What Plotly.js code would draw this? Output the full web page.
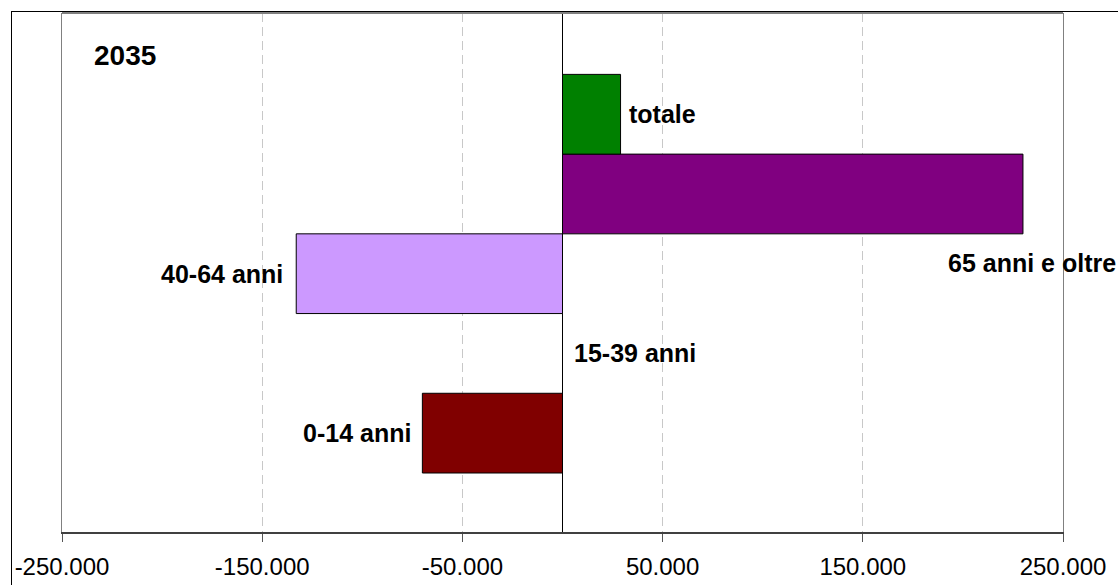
<!DOCTYPE html>
<html>
<head>
<meta charset="utf-8">
<script src="https://cdn.plot.ly/plotly-3.0.1.min.js"></script>
<style>
  html, body { margin: 0; padding: 0; background: #ffffff; overflow: hidden; }
  #frame { position: absolute; left: 11px; top: 11px; width: 1200px; height: 700px;
           border-left: 1px solid #000; border-top: 1px solid #000; }
  #chart { position: absolute; left: 0; top: 0; width: 1118px; height: 585px; }
</style>
</head>
<body>
<div id="frame"></div>
<div id="chart"></div>
<script>
// Data
const categories = ['0-14 anni', '15-39 anni', '40-64 anni', '65 anni e oltre', 'totale'];
const values = [-70000, 0, -133000, 230000, 29000];
const barColors = ['#800000', '#FF9999', '#CC99FF', '#800080', '#008000'];
const tickValues = [-250000, -150000, -50000, 50000, 150000, 250000];
const tickLabels = ['-250.000', '-150.000', '-50.000', '50.000', '150.000', '250.000'];
const chartTitle = '2035';

const labelFont = { family: 'Liberation Sans, Arial, sans-serif', size: 25, color: '#000000' };

const trace = {
  type: 'bar',
  orientation: 'h',
  y: categories,
  x: values,
  marker: { color: barColors, line: { color: '#000000', width: 1 } },
  hoverinfo: 'none'
};

// label placement offsets per category (style, not data)
const labelStyle = {
  '0-14 anni': { xanchor: 'right', xshift: -9, yshift: 0 },
  '15-39 anni': { xanchor: 'left', xshift: 9, yshift: 0 },
  '40-64 anni': { xanchor: 'right', xshift: -11, yshift: 0 },
  '65 anni e oltre': { xanchor: 'left', xshift: -77, yshift: -69 },
  'totale': { xanchor: 'left', xshift: 6, yshift: 0 }
};

const annotations = categories.map((c, i) => ({
  x: values[i], y: c, xref: 'x', yref: 'y',
  text: '<b>' + c + '</b>', showarrow: false,
  xanchor: labelStyle[c].xanchor, yanchor: 'middle',
  xshift: labelStyle[c].xshift, yshift: labelStyle[c].yshift,
  font: labelFont
}));
annotations.push({
  x: 0.063, y: 0.919, xref: 'paper', yref: 'paper',
  text: '<b>' + chartTitle + '</b>', showarrow: false,
  xanchor: 'center', yanchor: 'middle',
  font: { family: 'Liberation Sans, Arial, sans-serif', size: 28, color: '#000000' }
});

const layout = {
  width: 1118, height: 585,
  margin: { l: 62, r: 55, t: 13, b: 53, pad: 0 },
  paper_bgcolor: 'rgba(0,0,0,0)',
  plot_bgcolor: '#ffffff',
  showlegend: false,
  bargap: 0,
  xaxis: {
    range: [-250000, 250000],
    tickvals: tickValues, ticktext: tickLabels,
    tickfont: { family: 'Liberation Sans, Arial, sans-serif', size: 24, color: '#000000' },
    ticks: 'outside', ticklen: 8, tickcolor: '#555555', tickwidth: 1,
    ticklabelstandoff: 4,
    showgrid: true, gridcolor: '#c8c8c8', griddash: '9px,5px', gridwidth: 1,
    zeroline: true, zerolinecolor: '#000000', zerolinewidth: 1,
    showline: true, linecolor: '#404040', linewidth: 2,
    fixedrange: true
  },
  yaxis: {
    type: 'category',
    categoryorder: 'array', categoryarray: categories,
    range: [-1.24, 5.27],
    showticklabels: false, ticks: '',
    showgrid: false, zeroline: false,
    showline: true, mirror: true, linecolor: '#808080', linewidth: 1,
    fixedrange: true
  },
  shapes: [{
    type: 'line', xref: 'paper', yref: 'paper', x0: 0, x1: 1, y0: 1, y1: 1,
    line: { color: '#808080', width: 2 }
  }],
  annotations: annotations
};

Plotly.newPlot('chart', [trace], layout, { displayModeBar: false, staticPlot: true });
</script>
</body>
</html>
